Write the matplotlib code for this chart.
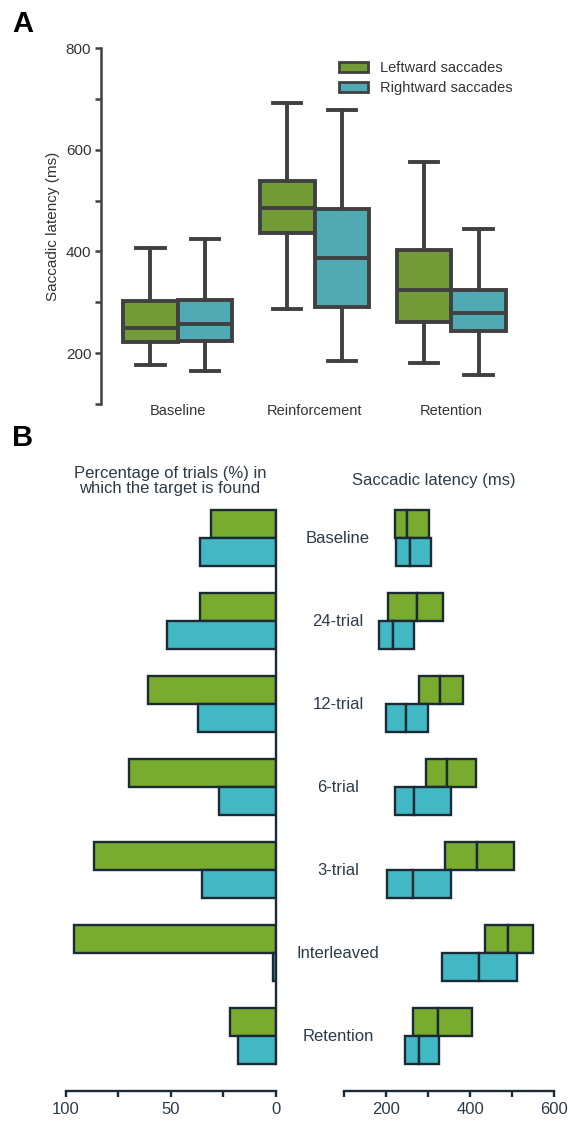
import numpy as np
import matplotlib.pyplot as plt
from matplotlib.patches import Patch
from matplotlib import transforms

plt.rcParams['font.family'] = ['Liberation Sans', 'DejaVu Sans']

# ---- Panel A data (box plots) ----
groups_a = ['Baseline', 'Reinforcement', 'Retention']
left_whislo = [177, 286, 181]
left_q1 = [221, 437, 262]
left_med = [249, 486, 324]
left_q3 = [303, 539, 403]
left_whishi = [407, 691, 575]

right_whislo = [164, 185, 157]
right_q1 = [224, 291, 244]
right_med = [257, 387, 278]
right_q3 = [305, 483, 324]
right_whishi = [424, 678, 445]

# ---- Panel B data ----
conditions = ['Baseline', '24-trial', '12-trial', '6-trial', '3-trial', 'Interleaved', 'Retention']
pct_left = [31, 36, 61, 70, 86.5, 96, 22]
pct_right = [36, 52, 37, 27, 35, 1.5, 18]

lat_left_q1 = [220, 205, 279, 295, 339, 436, 263]
lat_left_med = [249, 274, 327, 344, 417, 489, 323]
lat_left_q3 = [302, 336, 382, 414, 503, 549, 404]
lat_right_q1 = [224, 183, 199, 220, 202, 333, 244]
lat_right_med = [257, 217, 246, 265, 263, 420, 277]
lat_right_q3 = [306, 267, 299, 355, 355, 511, 326]

green_a, teal_a, line_a = '#739c39', '#4faab4', '#404040'
green_b, teal_b, edge_b = '#78ab2e', '#42b8c5', '#1b2a35'
text_b = '#2d3b47'

W, H = 570, 1121
fig = plt.figure(figsize=(W / 100, H / 100), dpi=100)

# ================= Panel A =================
axA = fig.add_axes([101 / W, 1 - 404 / H, 427 / W, (404 - 48) / H])
pos = np.arange(len(groups_a))
stats_l = [dict(whislo=a, q1=b, med=c, q3=d, whishi=e, fliers=[])
           for a, b, c, d, e in zip(left_whislo, left_q1, left_med, left_q3, left_whishi)]
stats_r = [dict(whislo=a, q1=b, med=c, q3=d, whishi=e, fliers=[])
           for a, b, c, d, e in zip(right_whislo, right_q1, right_med, right_q3, right_whishi)]
lw = 2.8
for st, off, col in [(stats_l, -0.2, green_a), (stats_r, 0.2, teal_a)]:
    axA.bxp(st, positions=pos + off, widths=0.4, patch_artist=True, showfliers=False,
            capwidths=0.21, manage_ticks=False,
            boxprops=dict(facecolor=col, edgecolor=line_a, linewidth=lw),
            medianprops=dict(color=line_a, linewidth=lw),
            whiskerprops=dict(color=line_a, linewidth=lw),
            capprops=dict(color=line_a, linewidth=lw))
axA.set_xlim(-0.56, 2.56)
axA.set_ylim(100, 800)
axA.set_yticks(np.arange(100, 801, 100))
axA.set_yticklabels(['' if v % 200 else str(v) for v in range(100, 801, 100)])
axA.set_xticks(pos)
axA.set_xticklabels(groups_a)
for s in ['top', 'right', 'bottom']:
    axA.spines[s].set_visible(False)
axA.spines['left'].set_color(line_a)
axA.spines['left'].set_linewidth(1.8)
axA.tick_params(axis='y', length=4, width=1.8, color=line_a, labelsize=11, labelcolor='#333333', pad=3)
axA.tick_params(axis='x', length=0, pad=0, labelsize=10.5, labelcolor='#333333')
axA.set_ylabel('Saccadic latency (ms)', fontsize=11, color='#333333', labelpad=4)
handles = [Patch(facecolor=green_a, edgecolor=line_a, linewidth=2, label='Leftward saccades'),
           Patch(facecolor=teal_a, edgecolor=line_a, linewidth=2, label='Rightward saccades')]
leg = axA.legend(handles=handles, loc='upper right', bbox_to_anchor=(0.995, 1.0), frameon=False,
                 fontsize=10.5, handlelength=2.0, handleheight=0.75, labelspacing=0.4,
                 handletextpad=0.8)
for t in leg.get_texts():
    t.set_color('#333333')
fig.text(12 / W, 1 - 10 / H, 'A', fontsize=21, fontweight='bold', va='top', ha='left')

# ================= Panel B =================
y = np.arange(len(conditions))
bh = 0.337
ylim_b = (6.66, -0.4)
rect_y = 1 - 1091 / H
rect_h = (1091 - 505) / H

axL = fig.add_axes([65.7 / W, rect_y, 210 / W, rect_h])
axR = fig.add_axes([344.3 / W, rect_y, 210 / W, rect_h])
axR.patch.set_visible(False)

axL.barh(y - bh / 2, pct_left, height=bh, color=green_b, edgecolor=edge_b, linewidth=1.7)
axL.barh(y + bh / 2, pct_right, height=bh, color=teal_b, edgecolor=edge_b, linewidth=1.7)
axL.set_xlim(100, 0)
axL.set_ylim(*ylim_b)
axL.set_yticks([])
axL.set_xticks([0, 25, 50, 75, 100])
axL.set_xticklabels(['0', '', '50', '', '100'])
for s in ['top', 'left']:
    axL.spines[s].set_visible(False)
axL.spines['right'].set_bounds(-bh, 6 + bh)
axL.spines['right'].set_color(edge_b)
axL.spines['right'].set_linewidth(1.7)

axR.barh(y - bh / 2, np.subtract(lat_left_med, lat_left_q1), left=lat_left_q1, height=bh,
         color=green_b, edgecolor=edge_b, linewidth=1.7)
axR.barh(y - bh / 2, np.subtract(lat_left_q3, lat_left_med), left=lat_left_med, height=bh,
         color=green_b, edgecolor=edge_b, linewidth=1.7)
axR.barh(y + bh / 2, np.subtract(lat_right_med, lat_right_q1), left=lat_right_q1, height=bh,
         color=teal_b, edgecolor=edge_b, linewidth=1.7)
axR.barh(y + bh / 2, np.subtract(lat_right_q3, lat_right_med), left=lat_right_med, height=bh,
         color=teal_b, edgecolor=edge_b, linewidth=1.7)
axR.set_xlim(100, 600)
axR.set_ylim(*ylim_b)
axR.set_yticks([])
axR.set_xticks(np.arange(100, 601, 100))
axR.set_xticklabels(['' if v % 200 else str(v) for v in range(100, 601, 100)])
for s in ['top', 'left', 'right']:
    axR.spines[s].set_visible(False)

for ax in (axL, axR):
    ax.spines['bottom'].set_color(edge_b)
    ax.spines['bottom'].set_linewidth(1.7)
    ax.tick_params(axis='x', length=4, width=1.7, color=edge_b, labelsize=12, labelcolor=text_b, pad=4)

trans = transforms.blended_transform_factory(fig.transFigure, axL.transData)
for yi, name in zip(y, conditions):
    axL.text(338 / W, yi, name, transform=trans, ha='center', va='center',
             fontsize=12, color=text_b, clip_on=False, zorder=5)

fig.text(170 / W, 1 - 481 / H, 'Percentage of trials (%) in\nwhich the target is found',
         ha='center', va='center', fontsize=12, color=text_b, linespacing=1.05)
fig.text(434 / W, 1 - 481 / H, 'Saccadic latency (ms)', ha='center', va='center',
         fontsize=12, color=text_b)
fig.text(12 / W, 1 - 424 / H, 'B', fontsize=21, fontweight='bold', va='top', ha='left')

fig.savefig('out.png', dpi=100)
